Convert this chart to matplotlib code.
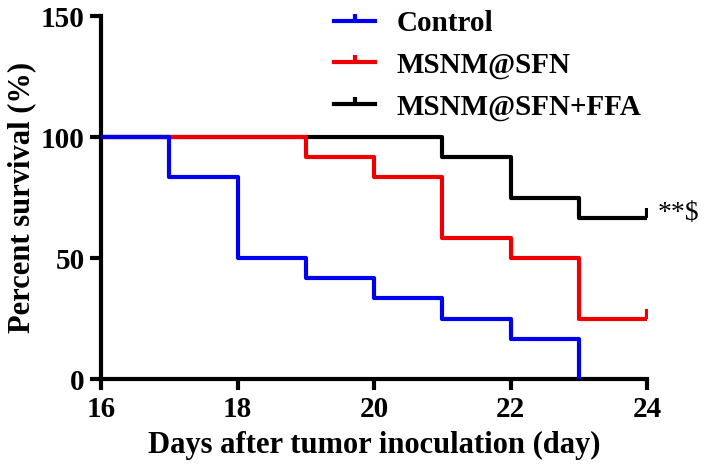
import numpy as np
import matplotlib.pyplot as plt
from matplotlib.lines import Line2D

plt.rcParams['font.family'] = ['Liberation Serif', 'DejaVu Serif']
plt.rcParams['font.weight'] = 'bold'

# Kaplan-Meier steps (day, percent survival)
days_control = [16, 17, 18, 19, 20, 21, 22, 23, 23]
surv_control = [100, 83.33, 50, 41.67, 33.33, 25, 16.67, 0, 0]

days_sfn = [16, 19, 20, 21, 22, 23, 24]
surv_sfn = [100, 91.67, 83.33, 58.33, 50, 25, 25]

days_ffa = [16, 21, 22, 23, 24]
surv_ffa = [100, 91.67, 75, 66.67, 66.67]

labels = ['Control', 'MSNM@SFN', 'MSNM@SFN+FFA']
colors = ['#0000ee', '#ee0000', '#000000']

fig = plt.figure(figsize=(7.08, 4.71), dpi=100)
ax = fig.add_axes([0.143, 0.195, 0.771, 0.771])

series = [(days_control, surv_control), (days_sfn, surv_sfn), (days_ffa, surv_ffa)]
# draw black first so control ends up on top where curves overlap
for (d, s), c, z in zip(series, colors, [4, 3, 2]):
    ax.step(d, s, where='post', color=c, lw=3, solid_capstyle='butt', zorder=z)

# censor ticks at the end of surviving groups
ax.plot([24], [surv_sfn[-1]], marker=2, color=colors[1], ms=7, mew=3, zorder=3)
ax.plot([24], [surv_ffa[-1]], marker=2, color=colors[2], ms=7, mew=3, zorder=2)

ax.text(24.15, 68.5, '**$', fontsize=20, fontweight='normal', va='center', ha='left')

ax.set_xlim(16, 24)
ax.set_ylim(0, 150)
ax.set_xticks([16, 18, 20, 22, 24])
ax.set_yticks([0, 50, 100, 150])
for sp in ['top', 'right']:
    ax.spines[sp].set_visible(False)
for sp in ['left', 'bottom']:
    ax.spines[sp].set_linewidth(3)
ax.tick_params(width=3, length=8, labelsize=21, pad=4)
for t in ax.get_xticklabels() + ax.get_yticklabels():
    t.set_fontweight('bold')

ax.set_xlabel('Days after tumor inoculation (day)', fontsize=22, fontweight='bold', labelpad=6)
ax.set_ylabel('Percent survival (%)', fontsize=22, fontweight='bold', labelpad=3)

handles = [Line2D([0], [0], color=c, lw=3, marker=2, ms=5, mew=3) for c in colors]
ax.legend(handles, labels, loc='upper left', bbox_to_anchor=(0.435, 1.035),
          bbox_transform=fig.transFigure, frameon=False,
          handlelength=1.4, handletextpad=0.75, labelspacing=0.5, numpoints=1,
          prop={'weight': 'bold', 'size': 21})

fig.savefig('out.png', dpi=100)
